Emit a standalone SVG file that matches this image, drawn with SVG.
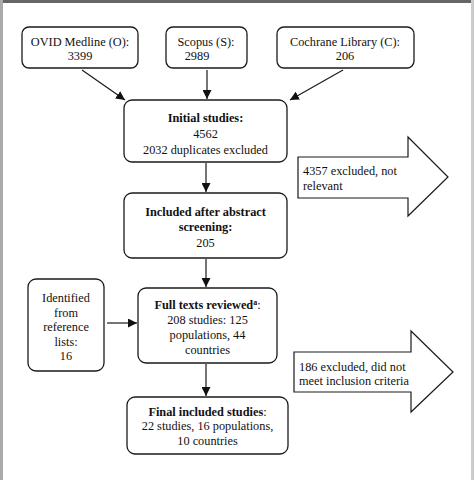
<svg xmlns="http://www.w3.org/2000/svg" width="474" height="480" viewBox="0 0 474 480">
<defs>
<style>
.box{fill:#fff;stroke:#1a1a1a;stroke-width:1.3}
.big{fill:#fff;stroke:#1a1a1a;stroke-width:1.2;stroke-linejoin:miter}
.t{font-family:"Liberation Serif","Times New Roman",serif;font-size:12.3px;fill:#111}
.c{text-anchor:middle}
.b{font-weight:bold}
.ln{stroke:#1a1a1a;stroke-width:1.2;fill:none;marker-end:url(#ah)}
</style>
<marker id="ah" viewBox="0 0 10 10" refX="10" refY="5" markerWidth="9" markerHeight="9" markerUnits="userSpaceOnUse" orient="auto">
<path d="M0,0 L10,5 L0,10 Z" fill="#111"/>
</marker>
</defs>
<rect x="0" y="0" width="474" height="480" fill="#fff"/>
<rect x="0" y="0" width="474" height="3" fill="#666"/>
<rect x="0" y="0" width="3" height="480" fill="#aaa"/>
<rect x="471" y="0" width="3" height="480" fill="#ccc"/>

<g id="connectors">
<line class="ln" x1="82" y1="70" x2="125" y2="100"/>
<line class="ln" x1="207" y1="70" x2="207" y2="99"/>
<line class="ln" x1="343" y1="70" x2="290" y2="100"/>
<line class="ln" x1="206" y1="163" x2="206" y2="192"/>
<line class="ln" x1="206" y1="259" x2="206" y2="287"/>
<line class="ln" x1="107" y1="323" x2="137" y2="323"/>
<line class="ln" x1="206" y1="364" x2="206" y2="396"/>
</g>

<g id="ovid">
<rect class="box" x="22" y="27" width="116" height="41" rx="7"/>
<text class="t c" x="80" y="46">OVID Medline (O):</text>
<text class="t c" x="80" y="60">3399</text>
</g>
<g id="scopus">
<rect class="box" x="166" y="27" width="81" height="41" rx="7"/>
<text class="t c" x="206" y="46">Scopus (S):</text>
<text class="t c" x="197" y="60">2989</text>
</g>
<g id="cochrane">
<rect class="box" x="277" y="27" width="137" height="41" rx="7"/>
<text class="t c" x="345" y="46">Cochrane Library (C):</text>
<text class="t c" x="345" y="60">206</text>
</g>

<g id="initial">
<rect class="box" x="124" y="100" width="163" height="62" rx="8"/>
<text class="t c b" x="205.5" y="122">Initial studies:</text>
<text class="t c" x="205.5" y="138">4562</text>
<text class="t c" x="205.5" y="154">2032 duplicates excluded</text>
</g>

<g id="excl1">
<path class="big" d="M298,157 L408,157 L408,137 L448,177 L408,216 L408,198 L298,198 Z"/>
<text class="t" x="303" y="175">4357 excluded, not</text>
<text class="t" x="303" y="190">relevant</text>
</g>

<g id="abstract">
<rect class="box" x="124" y="193" width="163" height="65" rx="8"/>
<text class="t c b" x="205.5" y="216">Included after abstract</text>
<text class="t c b" x="205.5" y="231">screening:</text>
<text class="t c" x="205.5" y="247">205</text>
</g>

<g id="identified">
<rect class="box" x="28" y="279" width="76" height="92" rx="8"/>
<text class="t c" x="66" y="302">Identified</text>
<text class="t c" x="66" y="316.5">from</text>
<text class="t c" x="66" y="331">reference</text>
<text class="t c" x="66" y="345.5">lists:</text>
<text class="t c" x="66" y="360">16</text>
</g>

<g id="fulltext">
<rect class="box" x="138" y="288" width="139" height="75" rx="8"/>
<text class="t c" x="207.5" y="309"><tspan class="b">Full texts reviewed</tspan><tspan class="b" font-size="8" dy="-4">a</tspan><tspan dy="4">:</tspan></text>
<text class="t c" x="207.5" y="324">208 studies: 125</text>
<text class="t c" x="207.5" y="339">populations, 44</text>
<text class="t c" x="207.5" y="354">countries</text>
</g>

<g id="excl2">
<path class="big" d="M294,352 L411,352 L411,331 L453,372 L411,412 L411,392 L294,392 Z"/>
<text class="t" x="299" y="371">186 excluded, did not</text>
<text class="t" x="299" y="385">meet inclusion criteria</text>
</g>

<g id="final">
<rect class="box" x="127" y="397" width="161" height="57" rx="8"/>
<text class="t c" x="207.5" y="416"><tspan class="b">Final included studies</tspan>:</text>
<text class="t c" x="207.5" y="430">22 studies, 16 populations,</text>
<text class="t c" x="207.5" y="445">10 countries</text>
</g>
</svg>
